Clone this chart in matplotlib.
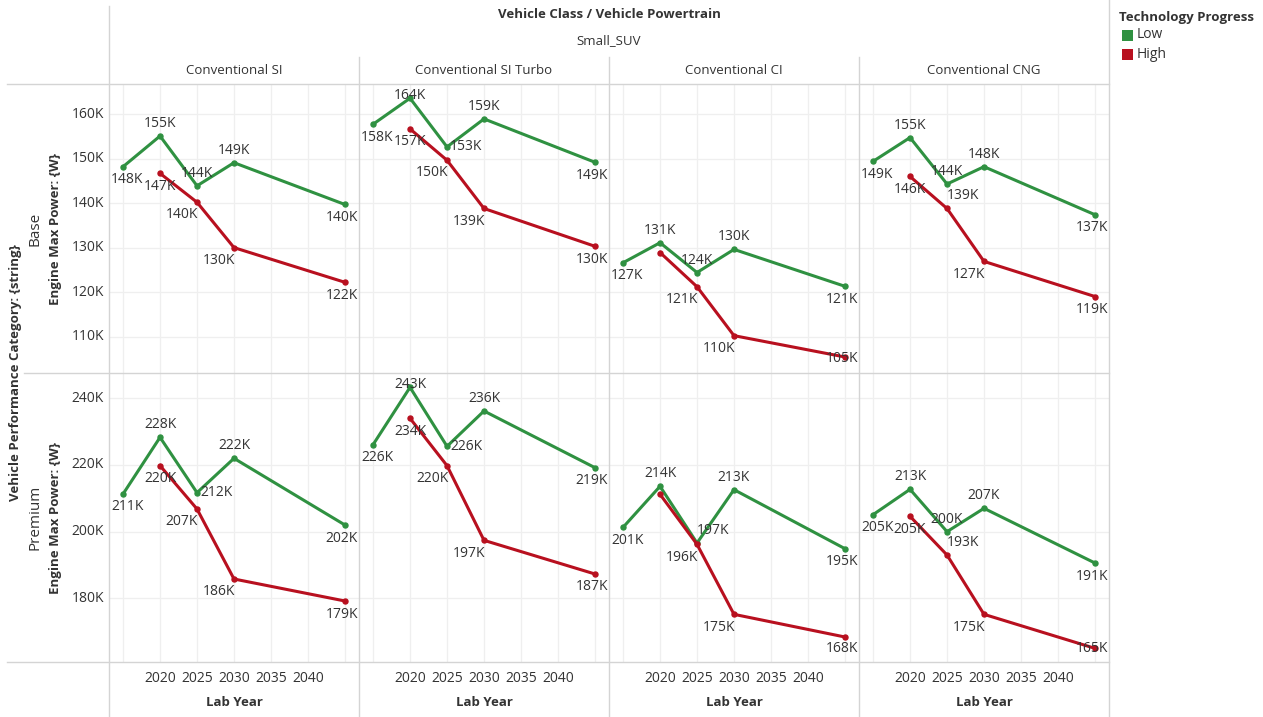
import matplotlib
matplotlib.use("Agg")
import matplotlib.pyplot as plt
from matplotlib.lines import Line2D
from matplotlib.patches import Rectangle
from matplotlib.transforms import IdentityTransform

W, H = 1263, 717
plt.rcParams['font.family'] = ['Open Sans', 'DejaVu Sans']

# ---------------- data ----------------
powertrains = ["Conventional SI", "Conventional SI Turbo", "Conventional CI", "Conventional CNG"]
categories = ["Base", "Premium"]
years_low = [2015, 2020, 2025, 2030, 2045]
years_high = [2020, 2025, 2030, 2045]

base_low = {
    "Conventional SI":       [148200, 155100, 143900, 149100, 139700],
    "Conventional SI Turbo": [157750, 163600, 152650, 158950, 149200],
    "Conventional CI":       [126600, 131100, 124400, 129600, 121300],
    "Conventional CNG":      [149400, 154750, 144300, 148200, 137400],
}
base_high = {
    "Conventional SI":       [146700, 140200, 130000, 122200],
    "Conventional SI Turbo": [156700, 149650, 138800, 130300],
    "Conventional CI":       [128900, 121200, 110200, 105400],
    "Conventional CNG":      [146000, 138800, 126900, 119000],
}
prem_low = {
    "Conventional SI":       [211300, 228300, 211700, 222000, 202000],
    "Conventional SI Turbo": [226100, 243300, 225600, 236200, 219200],
    "Conventional CI":       [201300, 213600, 196600, 212600, 194900],
    "Conventional CNG":      [205100, 212700, 200000, 207000, 190600],
}
prem_high = {
    "Conventional SI":       [219800, 206800, 185800, 179200],
    "Conventional SI Turbo": [234000, 219800, 197400, 187300],
    "Conventional CI":       [211200, 196200, 175200, 168400],
    "Conventional CNG":      [204600, 193000, 175200, 165000],
}
y_ticks = {"Base": [110000, 120000, 130000, 140000, 150000, 160000],
           "Premium": [180000, 200000, 220000, 240000]}
x_ticks = [2020, 2025, 2030, 2035, 2040]
x_grid = [2015, 2020, 2025, 2030, 2035, 2040, 2045]

# ---------------- style ----------------
GREEN = '#2f9141'
RED = '#b8101f'
TXT = '#333333'
LINE = '#d4d4d4'
GRID = '#efefef'
xlim = (2013.1, 2046.9)
ylims = {"Base": (101800, 166800), "Premium": (160900, 247600)}

# label placement (style): a=above, b=below, bl=below-left, r=right, ar=above-right, n=none
place_low = {
    ("Base", "Conventional SI"): ['b', 'a', 'a', 'a', 'b'],
    ("Base", "Conventional SI Turbo"): ['b', 'a', 'r', 'a', 'b'],
    ("Base", "Conventional CI"): ['b', 'a', 'a', 'a', 'b'],
    ("Base", "Conventional CNG"): ['b', 'a', 'a', 'a', 'b'],
    ("Premium", "Conventional SI"): ['b', 'a', 'r', 'a', 'b'],
    ("Premium", "Conventional SI Turbo"): ['b', 'a', 'r', 'a', 'b'],
    ("Premium", "Conventional CI"): ['b', 'a', 'ar', 'a', 'b'],
    ("Premium", "Conventional CNG"): ['b', 'a', 'a', 'a', 'b'],
}
place_high = {
    ("Base", "Conventional SI"): ['b', 'bl', 'bl', 'b'],
    ("Base", "Conventional SI Turbo"): ['b', 'bl', 'bl', 'b'],
    ("Base", "Conventional CI"): ['n', 'bl', 'bl', 'b'],
    ("Base", "Conventional CNG"): ['b', 'ar', 'bl', 'b'],
    ("Premium", "Conventional SI"): ['b', 'bl', 'bl', 'b'],
    ("Premium", "Conventional SI Turbo"): ['b', 'bl', 'bl', 'b'],
    ("Premium", "Conventional CI"): ['n', 'bl', 'bl', 'b'],
    ("Premium", "Conventional CNG"): ['b', 'ar', 'bl', 'b'],
}
offsets = {'a': (0, 12.5), 'b': (0, -13), 'bl': (-15, -12.7), 'r': (19, 0), 'ar': (16, 12.7)}

col_x = [109, 359, 609, 859, 1109]
row_y = [84, 373, 662]
FS = 9.5
VFS = 10

fig = plt.figure(figsize=(W / 100, H / 100), dpi=100)


def fx(x):
    return x / W


def fy(y):
    return 1 - y / H


def hline(y, x0, x1):
    fig.add_artist(Line2D([fx(x0), fx(x1)], [fy(y), fy(y)], color=LINE, lw=1.0))


def vline(x, y0, y1):
    fig.add_artist(Line2D([fx(x), fx(x)], [fy(y0), fy(y1)], color=LINE, lw=1.0))


data = {"Base": (base_low, base_high), "Premium": (prem_low, prem_high)}
axes = {}
labels = []
for r, cat in enumerate(categories):
    for c, pt in enumerate(powertrains):
        x0, x1 = col_x[c], col_x[c + 1]
        y0, y1 = row_y[r], row_y[r + 1]
        ax = fig.add_axes([fx(x0), fy(y1), (x1 - x0) / W, (y1 - y0) / H])
        ax.set_xlim(*xlim)
        ax.set_ylim(*ylims[cat])
        for s in ax.spines.values():
            s.set_visible(False)
        ax.set_xticks(x_grid)
        ax.set_yticks(y_ticks[cat])
        ax.tick_params(length=0, labelleft=False, labelbottom=False)
        ax.grid(True, color=GRID, lw=0.9)
        ax.set_axisbelow(True)
        low, high = data[cat]
        ax.plot(years_low, low[pt], color=GREEN, lw=2.2, marker='o', ms=3.6, zorder=3)
        ax.plot(years_high, high[pt], color=RED, lw=2.2, marker='o', ms=3.6, zorder=4)
        axes[(r, c)] = ax
        for yrs, vals, plc in ((years_low, low[pt], place_low[(cat, pt)]),
                               (years_high, high[pt], place_high[(cat, pt)])):
            for xv, yv, p in zip(yrs, vals, plc):
                if p == 'n':
                    continue
                labels.append((ax, xv, yv, p, f"{yv / 1000:.0f}K"))

# position labels in pixel space and clamp inside panes
renderer = fig.canvas.get_renderer()
for ax, xv, yv, p, s in labels:
    px, py = ax.transData.transform((xv, yv))
    dx, dy = offsets[p]
    t = fig.text(px + dx, py + dy, s, transform=IdentityTransform(), ha='center', va='center',
                 fontsize=VFS, color=TXT, zorder=10)
    bb = t.get_window_extent(renderer)
    abb = ax.get_window_extent(renderer)
    cx, cy = px + dx, py + dy
    if bb.x1 > abb.x1 - 1:
        cx -= bb.x1 - (abb.x1 - 1)
    if bb.x0 < abb.x0 + 2:
        cx += (abb.x0 + 2) - bb.x0
    cy = min(cy, abb.y1 - 11.5)
    cy = max(cy, abb.y0 + 14)
    t.set_position((cx, cy))

# y tick labels
for r, cat in enumerate(categories):
    ax = axes[(r, 0)]
    for v in y_ticks[cat]:
        _, py = ax.transData.transform((xlim[0], v))
        fig.text(104, py, f"{v / 1000:.0f}K", transform=IdentityTransform(), ha='right', va='center',
                 fontsize=VFS, color=TXT)

# x tick labels and axis titles
for c in range(4):
    ax = axes[(1, c)]
    for v in x_ticks:
        px, _ = ax.transData.transform((v, 0))
        fig.text(px, H - 678, str(v), transform=IdentityTransform(), ha='center', va='center',
                 fontsize=VFS, color=TXT)
    fig.text(fx((col_x[c] + col_x[c + 1]) / 2), fy(702), "Lab Year", ha='center', va='center',
             fontsize=FS, color=TXT, fontweight='bold')
    fig.text(fx((col_x[c] + col_x[c + 1]) / 2), fy(70), powertrains[c], ha='center', va='center',
             fontsize=FS, color=TXT)

# headers
fig.text(fx(609), fy(15), "Vehicle Class / Vehicle Powertrain", ha='center', va='center',
         fontsize=FS, color=TXT, fontweight='bold')
fig.text(fx(609), fy(41), "Small_SUV", ha='center', va='center', fontsize=FS, color=TXT)
fig.text(fx(16), fy(373), "Vehicle Performance Category: {string}", rotation=90, ha='center',
         va='center', fontsize=FS, color=TXT, fontweight='bold')
for r, cat in enumerate(categories):
    yc = (row_y[r] + row_y[r + 1]) / 2
    fig.text(fx(35), fy(yc), cat, rotation=90, ha='center', va='center', fontsize=11, color=TXT)
    fig.text(fx(56), fy(yc), "Engine Max Power: {W}", rotation=90, ha='center', va='center',
             fontsize=FS, color=TXT, fontweight='bold')

# legend
fig.text(fx(1119), fy(17), "Technology Progress", ha='left', va='center', fontsize=FS,
         color=TXT, fontweight='bold')
for i, (lab, col) in enumerate((("Low", GREEN), ("High", RED))):
    yc = 35 + 19 * i
    fig.add_artist(Rectangle((fx(1122), fy(yc + 5.5)), 11 / W, 11 / H, facecolor=col,
                             edgecolor='none', transform=fig.transFigure))
    fig.text(fx(1137), fy(yc), lab, ha='left', va='center', fontsize=10, color=TXT)

# divider lines
hline(84, 7, 1109)
hline(373, 24, 1109)
hline(662, 7, 1109)
vline(109, 6, 717)
for x in col_x[1:4]:
    vline(x, 57, 717)
vline(1109, 0, 717)

fig.savefig("out.png", dpi=100, facecolor='white')
